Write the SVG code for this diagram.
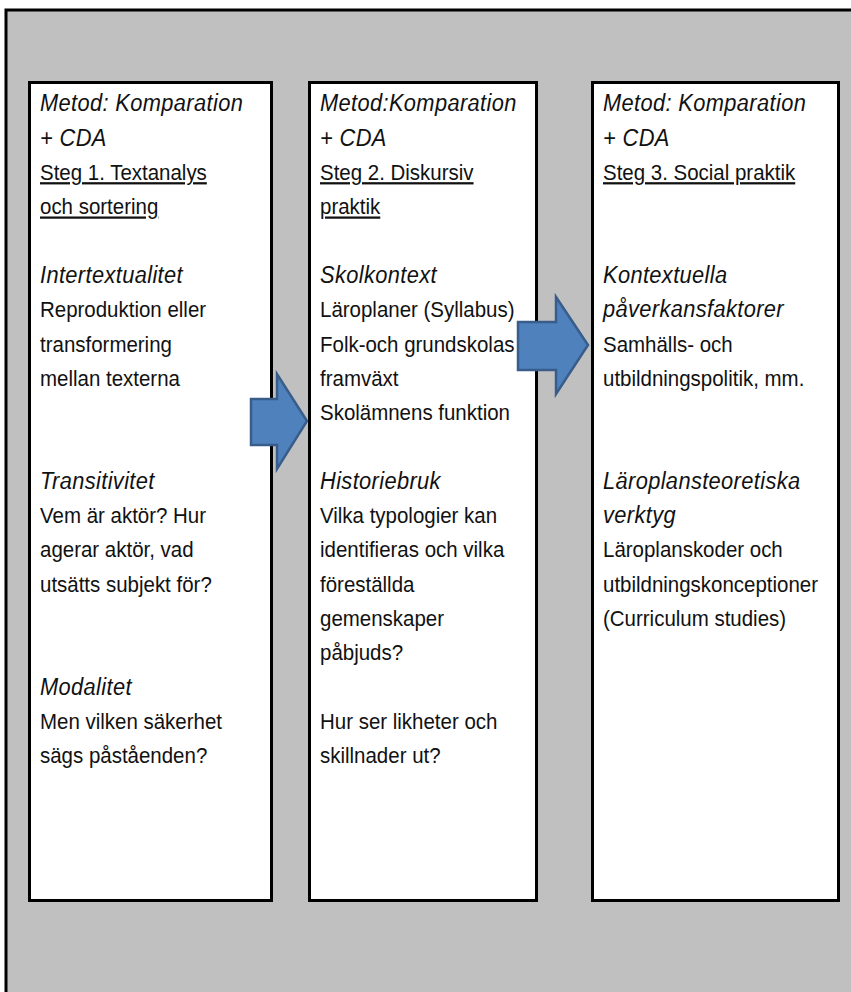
<svg xmlns="http://www.w3.org/2000/svg" width="851" height="992" viewBox="0 0 851 992">
<style>
.t{font-family:"Liberation Sans",Arial,sans-serif;font-size:22.5px;fill:#111}
.i{font-style:italic;font-size:24px;letter-spacing:0.4px}
.u{text-decoration:underline}
.box{fill:#fff;stroke:#000;stroke-width:3}
.arr{fill:#4F81BD;stroke:#385D8A;stroke-width:2.5;stroke-linejoin:miter}
</style>
<rect x="0" y="0" width="851" height="992" fill="#fff"/>
<rect x="6" y="10" width="845" height="982" fill="#C0C0C0"/>
<path d="M6 992 V10 H851" fill="none" stroke="#000" stroke-width="3"/>
<g id="col1">
<rect class="box" x="29.5" y="82.5" width="242" height="818"/>
<g transform="translate(40,0) scale(0.91,1)">
<text class="t i" x="0" y="111.5">Metod: Komparation</text>
<text class="t i" x="0" y="145.8">+ CDA</text>
<text class="t u" x="0" y="180.1">Steg 1. Textanalys</text>
<text class="t u" x="0" y="214.4">och sortering</text>
<text class="t i" x="0" y="283">Intertextualitet</text>
<text class="t" x="0" y="317.3">Reproduktion eller</text>
<text class="t" x="0" y="351.6">transformering</text>
<text class="t" x="0" y="385.9">mellan texterna</text>
<text class="t i" x="0" y="488.8">Transitivitet</text>
<text class="t" x="0" y="523.1">Vem är aktör? Hur</text>
<text class="t" x="0" y="557.4">agerar aktör, vad</text>
<text class="t" x="0" y="591.7">utsätts subjekt för?</text>
<text class="t i" x="0" y="694.6">Modalitet</text>
<text class="t" x="0" y="728.9">Men vilken säkerhet</text>
<text class="t" x="0" y="763.2">sägs påståenden?</text>
</g>
</g>
<g id="col2">
<rect class="box" x="309.5" y="82.5" width="227" height="818"/>
<g transform="translate(320,0) scale(0.91,1)">
<text class="t i" x="0" y="111.5">Metod:Komparation</text>
<text class="t i" x="0" y="145.8">+ CDA</text>
<text class="t u" x="0" y="180.1">Steg 2. Diskursiv</text>
<text class="t u" x="0" y="214.4">praktik</text>
<text class="t i" x="0" y="283">Skolkontext</text>
<text class="t" x="0" y="317.3">Läroplaner (Syllabus)</text>
<text class="t" x="0" y="351.6">Folk-och grundskolas</text>
<text class="t" x="0" y="385.9">framväxt</text>
<text class="t" x="0" y="420.2">Skolämnens funktion</text>
<text class="t i" x="0" y="488.8">Historiebruk</text>
<text class="t" x="0" y="523.1">Vilka typologier kan</text>
<text class="t" x="0" y="557.4">identifieras och vilka</text>
<text class="t" x="0" y="591.7">föreställda</text>
<text class="t" x="0" y="626">gemenskaper</text>
<text class="t" x="0" y="660.3">påbjuds?</text>
<text class="t" x="0" y="728.9">Hur ser likheter och</text>
<text class="t" x="0" y="763.2">skillnader ut?</text>
</g>
</g>
<g id="col3">
<rect class="box" x="592.5" y="82.5" width="246" height="818"/>
<g transform="translate(603,0) scale(0.91,1)">
<text class="t i" x="0" y="111.5">Metod: Komparation</text>
<text class="t i" x="0" y="145.8">+ CDA</text>
<text class="t u" x="0" y="180.1">Steg 3. Social praktik</text>
<text class="t i" x="0" y="283">Kontextuella</text>
<text class="t i" x="0" y="317.3">påverkansfaktorer</text>
<text class="t" x="0" y="351.6">Samhälls- och</text>
<text class="t" x="0" y="385.9">utbildningspolitik, mm.</text>
<text class="t i" x="0" y="488.8">Läroplansteoretiska</text>
<text class="t i" x="0" y="523.1">verktyg</text>
<text class="t" x="0" y="557.4">Läroplanskoder och</text>
<text class="t" x="0" y="591.7">utbildningskonceptioner</text>
<text class="t" x="0" y="626">(Curriculum studies)</text>
</g>
</g>
<g id="connectors">
<polygon class="arr" points="251,399 277,399 277,374 307,421 277,469 277,445 251,445"/>
<polygon class="arr" points="518,322 556,322 556,297 588,345 556,394 556,370 518,370"/>
</g>
</svg>
